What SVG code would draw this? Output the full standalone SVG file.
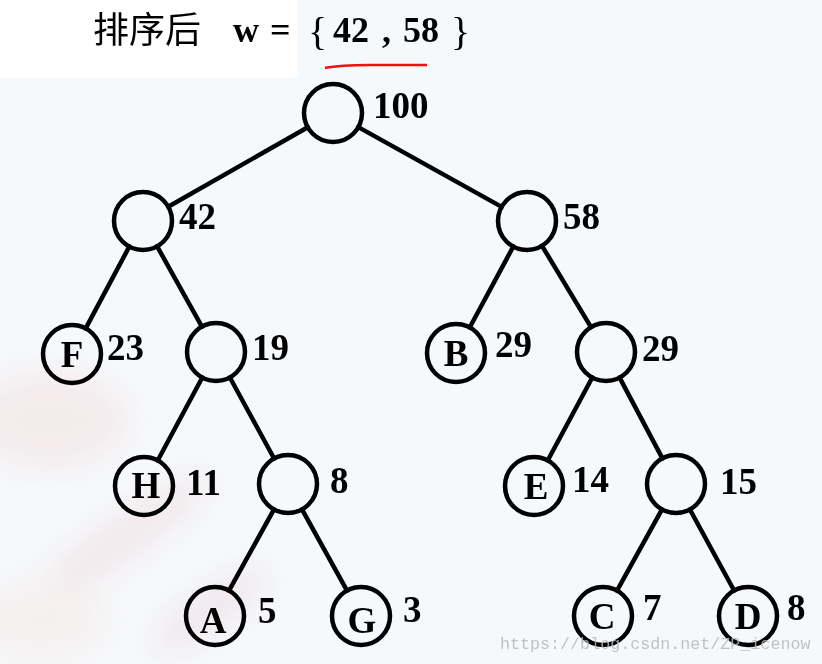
<svg xmlns="http://www.w3.org/2000/svg" width="822" height="664" viewBox="0 0 822 664">
<defs>
<style>
.node circle{fill:none;stroke:#000;stroke-width:4.5}
.lbl{font-family:"Liberation Serif","Times New Roman",serif;font-weight:bold;font-size:37px;fill:#000;text-anchor:middle}
.w{font-family:"Liberation Serif","Times New Roman",serif;font-weight:bold;font-size:37px;fill:#000}
.edges line{stroke:#000;stroke-width:4.5;stroke-linecap:round}
.t{font-family:"Liberation Serif","Times New Roman",serif;font-weight:bold;font-size:36px;fill:#000}
</style>
<filter id="blur" x="-50%" y="-50%" width="200%" height="200%"><feGaussianBlur stdDeviation="16"/></filter>
</defs>
<rect width="822" height="664" fill="#f6f9fc"/>
<g filter="url(#blur)" opacity="0.45">
<ellipse cx="50" cy="420" rx="80" ry="50" fill="#f2dada"/>
<ellipse cx="120" cy="540" rx="110" ry="22" fill="#eed2d6" transform="rotate(-35 120 540)"/>
<ellipse cx="40" cy="620" rx="70" ry="40" fill="#f5e6e2"/>
<ellipse cx="210" cy="610" rx="70" ry="18" fill="#e6cdd5" transform="rotate(-35 210 610)"/>
</g>
<rect x="0" y="0" width="298" height="78" fill="#ffffff"/>

<g id="title">
<text x="93" y="43" font-family="'Noto Sans CJK SC',sans-serif" font-size="36" fill="#000">排序后</text>
<text class="t" x="233" y="42">w</text>
<text class="t" x="270" y="42">=</text>
<text x="308" y="45" font-family="'Liberation Serif',serif" font-size="40" fill="#000">{</text>
<text class="t" x="333" y="42">42</text>
<text class="t" x="382" y="42">,</text>
<text class="t" x="403" y="42">58</text>
<text x="451" y="45" font-family="'Liberation Serif',serif" font-size="40" fill="#000">}</text>
<path d="M325,68 Q340,65 370,65 L427,65" fill="none" stroke="#ee1111" stroke-width="2.5"/>
</g>

<g id="connectors" class="edges">
<line x1="307.8" y1="127.3" x2="168.2" y2="206.7"/>
<line x1="358.3" y1="127.1" x2="501.7" y2="206.9"/>
<line x1="129.3" y1="246.6" x2="85.7" y2="328.4"/>
<line x1="157.1" y1="246.3" x2="201.9" y2="326.7"/>
<line x1="513.3" y1="246.5" x2="469.7" y2="327.5"/>
<line x1="542.0" y1="245.8" x2="591.0" y2="327.2"/>
<line x1="202.3" y1="377.5" x2="157.7" y2="460.5"/>
<line x1="229.9" y1="377.5" x2="274.1" y2="458.5"/>
<line x1="592.3" y1="377.5" x2="547.7" y2="460.5"/>
<line x1="619.6" y1="377.6" x2="662.4" y2="458.4"/>
<line x1="274.0" y1="509.4" x2="229.0" y2="590.6"/>
<line x1="302.0" y1="509.4" x2="347.0" y2="590.6"/>
<line x1="662.0" y1="509.4" x2="617.0" y2="590.6"/>
<line x1="689.9" y1="509.5" x2="734.1" y2="590.5"/>
</g>

<g id="n100" class="node"><circle cx="333" cy="113" r="29"/><text class="w" x="373" y="118">100</text></g>
<g id="n42" class="node"><circle cx="143" cy="221" r="29"/><text class="w" x="179" y="229">42</text></g>
<g id="n58" class="node"><circle cx="527" cy="221" r="29"/><text class="w" x="563" y="229">58</text></g>
<g id="nF" class="node"><circle cx="72" cy="354" r="29"/><text class="lbl" x="72" y="367">F</text><text class="w" x="107" y="360">23</text></g>
<g id="n19" class="node"><circle cx="216" cy="352" r="29"/><text class="w" x="252" y="360">19</text></g>
<g id="nB" class="node"><circle cx="456" cy="353" r="29"/><text class="lbl" x="456" y="366">B</text><text class="w" x="495" y="357">29</text></g>
<g id="n29" class="node"><circle cx="606" cy="352" r="29"/><text class="w" x="642" y="361">29</text></g>
<g id="nH" class="node"><circle cx="144" cy="486" r="29"/><text class="lbl" x="146" y="498">H</text><text class="w" x="186" y="495">11</text></g>
<g id="n8" class="node"><circle cx="288" cy="484" r="29"/><text class="w" x="330" y="493">8</text></g>
<g id="nE" class="node"><circle cx="534" cy="486" r="29"/><text class="lbl" x="536" y="499">E</text><text class="w" x="572" y="492">14</text></g>
<g id="n15" class="node"><circle cx="676" cy="484" r="29"/><text class="w" x="720" y="494">15</text></g>
<g id="nA" class="node"><circle cx="215" cy="616" r="29"/><text class="lbl" x="213" y="633">A</text><text class="w" x="258" y="623">5</text></g>
<g id="nG" class="node"><circle cx="361" cy="616" r="29"/><text class="lbl" x="362" y="633">G</text><text class="w" x="403" y="622">3</text></g>
<g id="nC" class="node"><circle cx="603" cy="616" r="29"/><text class="lbl" x="602" y="629">C</text><text class="w" x="643" y="620">7</text></g>
<g id="nD" class="node"><circle cx="748" cy="616" r="29"/><text class="lbl" x="748" y="629">D</text><text class="w" x="787" y="620">8</text></g>

<text x="500" y="649" font-family="'Liberation Mono','Courier New',monospace" font-size="16.7" fill="#b8b8b8" opacity="0.85">https://blog.csdn.net/ZP_icenow</text>
</svg>
